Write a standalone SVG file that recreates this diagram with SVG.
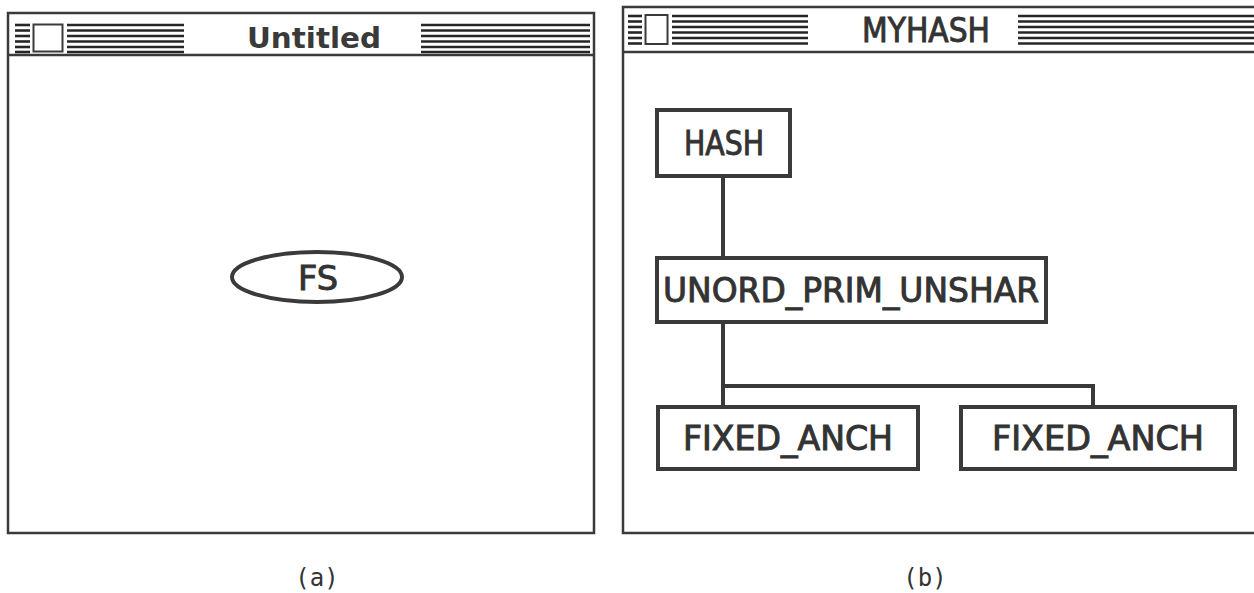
<svg xmlns="http://www.w3.org/2000/svg" width="1254" height="593" viewBox="0 0 1254 593">
  <style>
    .frame { fill: #fff; stroke: #3a3a3a; stroke-width: 2.5; }
    .bar { fill: none; stroke: #3a3a3a; stroke-width: 2.5; }
    .stripe { stroke: #262626; stroke-width: 2.6; }
    .title { font-family: "DejaVu Sans", "Liberation Sans", sans-serif; font-weight: bold; fill: #3a3a3a; }
    .node { fill: #fff; stroke: #3a3a3a; stroke-width: 4; }
    .label { font-family: "DejaVu Sans Condensed", "DejaVu Sans", sans-serif; font-weight: normal; font-size: 33px; fill: #333; stroke: #333; stroke-width: 0.9; text-anchor: middle; }
    .wire { fill: none; stroke: #3a3a3a; stroke-width: 4; }
    .caption { font-family: "DejaVu Sans Mono", monospace; font-size: 24px; fill: #333; text-anchor: middle; }
  </style>

  <rect width="1254" height="593" fill="#fff"/>

  <!-- left window: Untitled -->
  <g id="window-a">
    <rect class="frame" x="8" y="13" width="586" height="520"/>
    <line class="bar" x1="8" y1="55" x2="594" y2="55"/>
    <g class="stripe">
      <line x1="15" y1="25" x2="30" y2="25"/>
      <line x1="15" y1="30.5" x2="30" y2="30.5"/>
      <line x1="15" y1="36" x2="30" y2="36"/>
      <line x1="15" y1="41.5" x2="30" y2="41.5"/>
      <line x1="15" y1="47" x2="30" y2="47"/>
      <line x1="15" y1="52" x2="30" y2="52"/>
    </g>
    <rect x="33.5" y="24.5" width="29" height="27" fill="#fff" stroke="#3a3a3a" stroke-width="2"/>
    <g class="stripe">
      <line x1="67" y1="25" x2="184" y2="25"/>
      <line x1="67" y1="30.5" x2="184" y2="30.5"/>
      <line x1="67" y1="36" x2="184" y2="36"/>
      <line x1="67" y1="41.5" x2="184" y2="41.5"/>
      <line x1="67" y1="47" x2="184" y2="47"/>
      <line x1="67" y1="52" x2="184" y2="52"/>
    </g>
    <g class="stripe">
      <line x1="421" y1="25" x2="590" y2="25"/>
      <line x1="421" y1="30.5" x2="590" y2="30.5"/>
      <line x1="421" y1="36" x2="590" y2="36"/>
      <line x1="421" y1="41.5" x2="590" y2="41.5"/>
      <line x1="421" y1="47" x2="590" y2="47"/>
      <line x1="421" y1="52" x2="590" y2="52"/>
    </g>
    <text class="title" x="314" y="48" font-size="29" text-anchor="middle" textLength="134" lengthAdjust="spacingAndGlyphs">Untitled</text>
  </g>

  <g id="node-fs">
    <ellipse cx="317" cy="277" rx="85" ry="25" fill="#fff" stroke="#3a3a3a" stroke-width="4"/>
    <text class="label" x="318" y="290" font-size="30" textLength="40" lengthAdjust="spacingAndGlyphs">FS</text>
  </g>

  <!-- right window: MYHASH -->
  <g id="window-b">
    <rect class="frame" x="623" y="7" width="640" height="526"/>
    <line class="bar" x1="623" y1="52" x2="1254" y2="52"/>
    <g class="stripe">
      <line x1="628" y1="16" x2="642" y2="16"/>
      <line x1="628" y1="21.5" x2="642" y2="21.5"/>
      <line x1="628" y1="27" x2="642" y2="27"/>
      <line x1="628" y1="32.5" x2="642" y2="32.5"/>
      <line x1="628" y1="38" x2="642" y2="38"/>
      <line x1="628" y1="43.5" x2="642" y2="43.5"/>
    </g>
    <rect x="645.5" y="15" width="22" height="29" fill="#fff" stroke="#3a3a3a" stroke-width="2"/>
    <g class="stripe">
      <line x1="672" y1="16" x2="808" y2="16"/>
      <line x1="672" y1="21.5" x2="808" y2="21.5"/>
      <line x1="672" y1="27" x2="808" y2="27"/>
      <line x1="672" y1="32.5" x2="808" y2="32.5"/>
      <line x1="672" y1="38" x2="808" y2="38"/>
      <line x1="672" y1="43.5" x2="808" y2="43.5"/>
    </g>
    <g class="stripe">
      <line x1="1018" y1="16" x2="1254" y2="16"/>
      <line x1="1018" y1="21.5" x2="1254" y2="21.5"/>
      <line x1="1018" y1="27" x2="1254" y2="27"/>
      <line x1="1018" y1="32.5" x2="1254" y2="32.5"/>
      <line x1="1018" y1="38" x2="1254" y2="38"/>
      <line x1="1018" y1="43.5" x2="1254" y2="43.5"/>
    </g>
    <text class="label" x="926" y="42" font-size="30" textLength="128" lengthAdjust="spacingAndGlyphs">MYHASH</text>
  </g>

  <g id="connectors">
    <line class="wire" x1="723" y1="177" x2="723" y2="258"/>
    <line class="wire" x1="723" y1="322" x2="723" y2="407"/>
    <polyline class="wire" points="723,386 1093,386 1093,407"/>
  </g>

  <g id="node-hash">
    <rect class="node" x="657" y="110" width="133" height="66"/>
    <text class="label" x="724" y="155" textLength="80" lengthAdjust="spacingAndGlyphs">HASH</text>
  </g>

  <g id="node-unord">
    <rect class="node" x="657" y="258" width="389" height="64"/>
    <text class="label" x="851" y="302" textLength="376" lengthAdjust="spacingAndGlyphs">UNORD_PRIM_UNSHAR</text>
  </g>

  <g id="node-fixed-1">
    <rect class="node" x="658" y="407" width="260" height="62"/>
    <text class="label" x="788" y="450" textLength="210" lengthAdjust="spacingAndGlyphs">FIXED_ANCH</text>
  </g>

  <g id="node-fixed-2">
    <rect class="node" x="961" y="407" width="274" height="62"/>
    <text class="label" x="1098" y="450" textLength="212" lengthAdjust="spacingAndGlyphs">FIXED_ANCH</text>
  </g>

  <text class="caption" x="317" y="586">(a)</text>
  <text class="caption" x="925" y="586">(b)</text>
</svg>
